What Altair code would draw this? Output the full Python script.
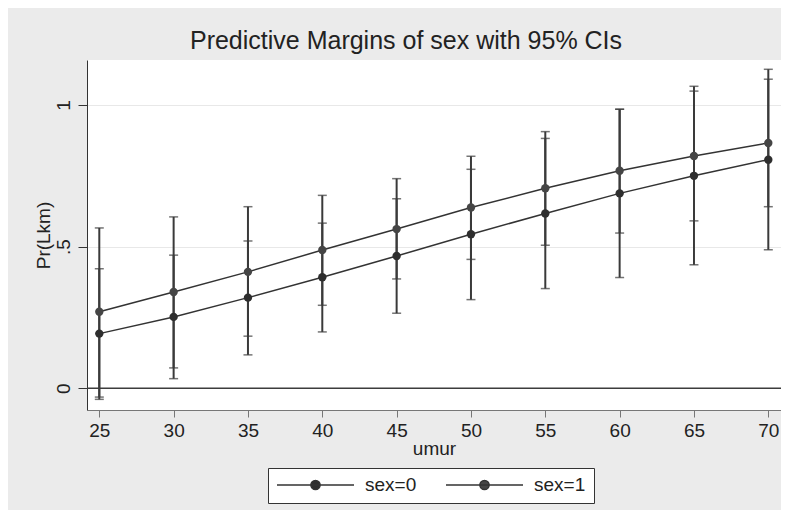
import altair as alt
import pandas as pd

# ---- data ----
umur = [25, 30, 35, 40, 45, 50, 55, 60, 65, 70]
sex_labels = ["sex=0", "sex=1"]
margin_sex0 = [0.193, 0.252, 0.320, 0.392, 0.467, 0.544, 0.617, 0.688, 0.750, 0.807]
lo_sex0 = [-0.039, 0.034, 0.118, 0.199, 0.265, 0.313, 0.352, 0.391, 0.436, 0.489]
hi_sex0 = [0.422, 0.470, 0.520, 0.583, 0.669, 0.773, 0.882, 0.985, 1.066, 1.126]
margin_sex1 = [0.270, 0.340, 0.411, 0.488, 0.562, 0.638, 0.706, 0.768, 0.820, 0.866]
lo_sex1 = [-0.031, 0.072, 0.184, 0.293, 0.386, 0.455, 0.505, 0.548, 0.591, 0.641]
hi_sex1 = [0.566, 0.605, 0.641, 0.681, 0.740, 0.819, 0.906, 0.985, 1.049, 1.091]
x_ticks = [25, 30, 35, 40, 45, 50, 55, 60, 65, 70]
y_ticks = [0, 0.5, 1]
zero_line = [0]

rows = []
for lab, m, lo, hi in [(sex_labels[0], margin_sex0, lo_sex0, hi_sex0),
                       (sex_labels[1], margin_sex1, lo_sex1, hi_sex1)]:
    for a, mv, l, h in zip(umur, m, lo, hi):
        rows.append({"umur": a, "sex": lab, "m": mv, "lo": l, "hi": h})
df = pd.DataFrame(rows)
zdf = pd.DataFrame({"z": zero_line})

FONT = "Liberation Sans"
DARK = "#333333"

xscale = alt.Scale(domain=[24.173, 70.854], nice=False, zero=False)
yscale = alt.Scale(domain=[-0.0766, 1.1588], nice=False, zero=False)

xaxis = alt.Axis(values=x_ticks, title="umur", grid=False, domainColor="#777777",
                 tickColor="#777777", tickSize=7, labelPadding=4, labelFontSize=19,
                 labelFont=FONT, labelColor="#222222", titleFont=FONT, titleFontSize=19,
                 titleFontWeight="normal", titleColor="#222222", titleY=44,
                 titleBaseline="alphabetic", labelFlush=False)
yaxis = alt.Axis(values=y_ticks, title="Pr(Lkm)", grid=True, gridColor="#E8E8E8",
                 domainColor=DARK, tickColor=DARK, tickSize=9, labelPadding=9,
                 labelAngle=270, labelAlign="center", labelBaseline="alphabetic",
                 labelFontSize=19, labelFont=FONT, labelColor="#222222",
                 labelExpr="datum.value == 0.5 ? '.5' : format(datum.value, 'd')",
                 titleFont=FONT, titleFontSize=19, titleFontWeight="normal",
                 titleColor="#222222", titleX=-38, titleY=175, titleAngle=270,
                 titleAlign="center", titleBaseline="alphabetic", labelFlush=False)

X = alt.X("umur:Q", scale=xscale, axis=xaxis, title="umur")

base = alt.Chart(df)

zero = alt.Chart(zdf).mark_rule(color="#3c3c3c", strokeWidth=1.5).encode(
    y=alt.Y("z:Q", scale=yscale, axis=yaxis, title="Pr(Lkm)")
)

bars = base.mark_rule(color="#3a3a3a", strokeWidth=2).encode(
    x=X,
    y=alt.Y("lo:Q", scale=yscale, axis=yaxis, title="Pr(Lkm)"),
    y2="hi:Q",
)

cap_lo = base.mark_tick(orient="horizontal", size=9, thickness=1.5, color="#3a3a3a").encode(
    x=X, y=alt.Y("lo:Q", scale=yscale, axis=yaxis, title="Pr(Lkm)"),
)
cap_hi = base.mark_tick(orient="horizontal", size=9, thickness=1.5, color="#3a3a3a").encode(
    x=X, y=alt.Y("hi:Q", scale=yscale, axis=yaxis, title="Pr(Lkm)"),
)

lines = base.mark_line(color=DARK, strokeWidth=1.5).encode(
    x=X, y=alt.Y("m:Q", scale=yscale, axis=yaxis, title="Pr(Lkm)"),
    detail="sex:N",
)

legend_symbol = "M-1,0H1M-0.12,0a0.12,0.12 0 1,0 0.24,0a0.12,0.12 0 1,0 -0.24,0"

points = base.mark_circle(size=70, opacity=1).encode(
    x=X, y=alt.Y("m:Q", scale=yscale, axis=yaxis, title="Pr(Lkm)"),
    color=alt.Color(
        "sex:N",
        scale=alt.Scale(domain=sex_labels, range=["#2e2e2e", "#454545"]),
        legend=alt.Legend(
            title=None, orient="none", legendX=181, legendY=408,
            direction="horizontal", columns=2, symbolType=legend_symbol,
            symbolSize=5929, symbolStrokeWidth=1.5, symbolStrokeColor=DARK,
            labelFontSize=19, labelFont=FONT, labelColor="#222222",
            labelOffset=10, columnPadding=28, padding=8, clipHeight=18,
            strokeColor=DARK, fillColor="white",
        ),
    ),
)

chart = alt.layer(zero, bars, cap_lo, cap_hi, lines, points).properties(
    width=694, height=350,
    title=alt.TitleParams("Predictive Margins of sex with 95% CIs", font=FONT,
                          fontSize=25, fontWeight="normal", color="#222222",
                          anchor="middle", dx=-28, offset=6),
    background="#EBEBEB",
    autosize=alt.AutoSizeParams(type="none"),
    padding={"left": 79, "top": 52, "right": 0, "bottom": 100},
).configure_view(fill="white", stroke=None)

chart.save("out.html", embed_options={"renderer": "svg", "actions": False})
